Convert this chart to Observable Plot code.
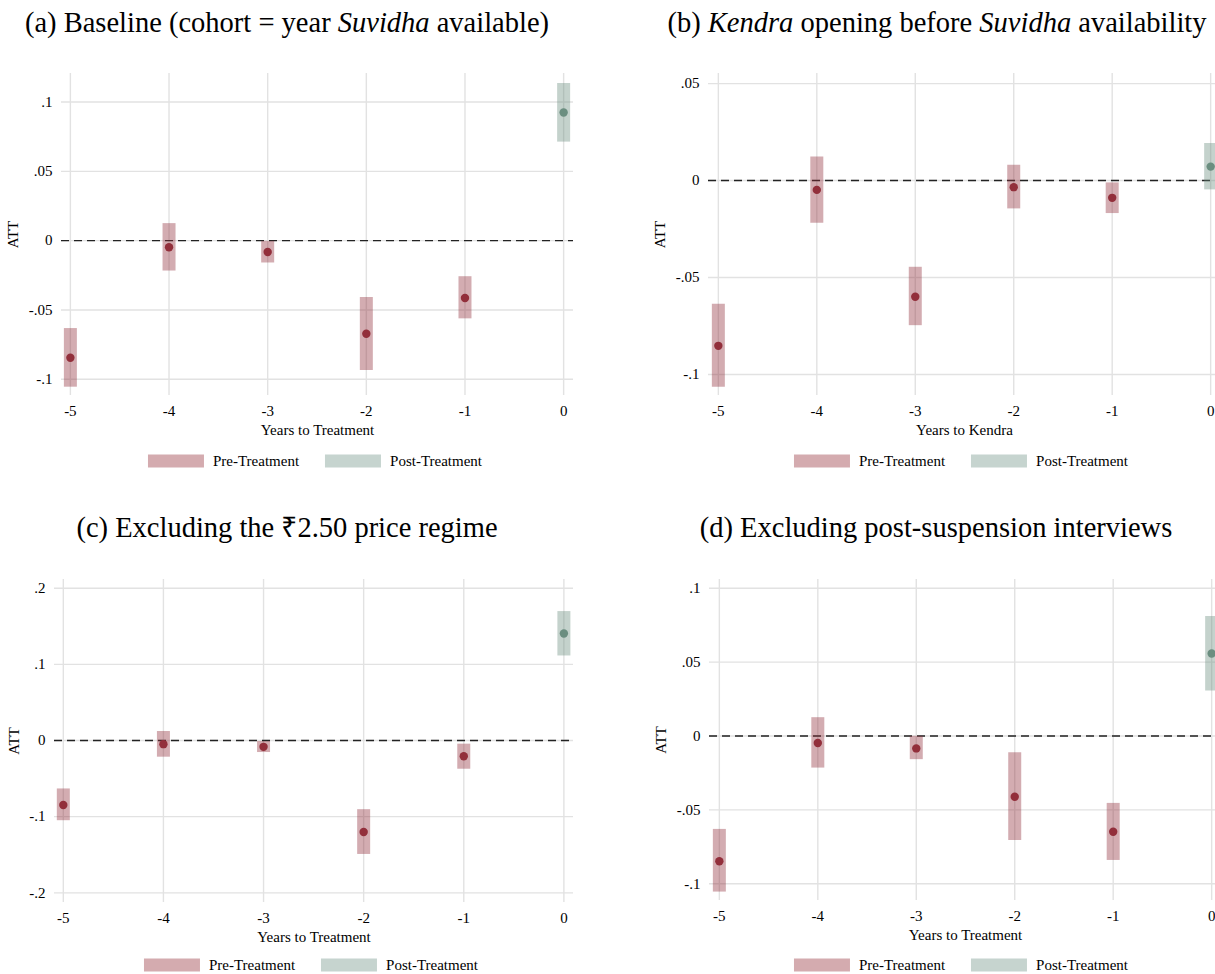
<!DOCTYPE html>
<html><head><meta charset="utf-8">
<script src="https://cdn.jsdelivr.net/npm/d3@7"></script>
<script src="https://cdn.jsdelivr.net/npm/@observablehq/plot@0.6"></script>
<style>
html,body{margin:0;padding:0;background:#fff;overflow:hidden}
#page{position:relative;width:1215px;height:974px;overflow:hidden;font-family:"Liberation Serif","Times New Roman",serif;color:#000;background:#fff}
.panel{position:absolute}
.panel svg{max-width:none !important;display:block}
.title{position:absolute;font-family:"Liberation Serif","Times New Roman",serif;font-size:28.5px;line-height:1;white-space:nowrap;transform:translate(-50%,-50%)}
.legend{position:absolute;display:flex;align-items:center;font-size:15px;line-height:1;white-space:nowrap;transform:translate(-50%,-50%)}
.sw{width:56px;height:13px;margin-right:9px}
.gap{width:26px}
</style></head><body><div id="page"></div>
<script>
// ---- data ----
const years = [-5, -4, -3, -2, -1, 0];
const phase = ["Pre", "Pre", "Pre", "Pre", "Pre", "Post"];
const xTicks = [-5, -4, -3, -2, -1, 0];

const attA = [-0.0845, -0.0048, -0.0082, -0.0672, -0.0414, 0.0925];
const loA  = [-0.1057, -0.0219, -0.0161, -0.0937, -0.0564, 0.0711];
const hiA  = [-0.0634,  0.0123, -0.0005, -0.0410, -0.0260, 0.1134];
const yTicksA = [-0.1, -0.05, 0, 0.05, 0.1];

const attB = [-0.0852, -0.0048, -0.0599, -0.0034, -0.0089, 0.0072];
const loB  = [-0.1065, -0.0220, -0.0748, -0.0146, -0.0170, -0.0048];
const hiB  = [-0.0638,  0.0122, -0.0447,  0.0079, -0.0012, 0.0191];
const yTicksB = [-0.1, -0.05, 0, 0.05];

const attC = [-0.0846, -0.0048, -0.0083, -0.1202, -0.0206, 0.1404];
const loC  = [-0.1053, -0.0219, -0.0158, -0.1496, -0.0377, 0.1110];
const hiC  = [-0.0636,  0.0118, -0.0013, -0.0908, -0.0048, 0.1693];
const yTicksC = [-0.2, -0.1, 0, 0.1, 0.2];

const attD = [-0.0847, -0.0047, -0.0084, -0.0411, -0.0648, 0.0558];
const loD  = [-0.1056, -0.0217, -0.0160, -0.0707, -0.0842, 0.0305];
const hiD  = [-0.0632,  0.0124, -0.0002, -0.0113, -0.0456, 0.0808];
const yTicksD = [-0.1, -0.05, 0, 0.05, 0.1];

const legendLabels = ["Pre-Treatment", "Post-Treatment"];

// ---- styles ----
const dotColor = {Pre: "#922f3b", Post: "#6b8e80"};
const swatchColor = {Pre: "#d4abaf", Post: "#c6d4cf"};

const fmtY = v => v === 0 ? "0" : (v < 0 ? "-" : "") + String(Math.abs(v)).replace(/^0/, "");
const fmtX = v => String(v);

const page = document.getElementById("page");

function rows(att, lo, hi) {
  return years.map((y, i) => ({year: y, att: att[i], lo: lo[i], hi: hi[i], phase: phase[i]}));
}

function panel(cfg) {
  const data = rows(cfg.att, cfg.lo, cfg.hi);
  const chart = Plot.plot({
    width: cfg.width, height: cfg.height,
    marginLeft: cfg.ml, marginRight: cfg.mr, marginTop: cfg.mt, marginBottom: cfg.mb,
    style: {fontFamily: '"Liberation Serif","Times New Roman",serif', fontSize: "15px", color: "#000", background: "transparent", overflow: "visible", maxWidth: "none"},
    x: {domain: cfg.xDomain},
    y: {domain: cfg.yDomain},
    marks: [
      Plot.gridX(xTicks, {stroke: "#e2e2e2", strokeOpacity: 1, strokeWidth: 1.4}),
      Plot.gridY(cfg.yTicks, {stroke: "#e2e2e2", strokeOpacity: 1, strokeWidth: 1.4}),
      Plot.ruleY([0], {stroke: "#222", strokeWidth: 1.4, strokeDasharray: "8,5"}),
      Plot.ruleX(data, {x: "year", y1: "lo", y2: "hi", stroke: d => dotColor[d.phase], strokeOpacity: 0.4, strokeWidth: 13}),
      Plot.dot(data, {x: "year", y: "att", r: 4.2, fill: d => dotColor[d.phase], stroke: null}),
      Plot.axisX(xTicks, {tickSize: 0, tickPadding: 10, tickFormat: fmtX, fontSize: 15, label: cfg.xLabel, labelAnchor: "center", labelArrow: "none", labelOffset: 39}),
      Plot.axisY(cfg.yTicks, {tickSize: 0, tickPadding: 9, tickFormat: fmtY, fontSize: 15, label: "ATT", labelAnchor: "center", labelArrow: "none", labelOffset: cfg.yLabelOffset})
    ]
  });
  const wrap = document.createElement("div");
  wrap.className = "panel";
  wrap.style.left = cfg.left + "px";
  wrap.style.top = cfg.top + "px";
  wrap.style.width = cfg.width + "px";
  wrap.style.height = cfg.height + "px";
  wrap.appendChild(chart);
  page.appendChild(wrap);

  const t = document.createElement("div");
  t.className = "title";
  t.style.left = cfg.titleX + "px";
  t.style.top = cfg.titleY + "px";
  t.innerHTML = cfg.title;
  page.appendChild(t);

  const lg = document.createElement("div");
  lg.className = "legend";
  lg.style.left = cfg.legendX + "px";
  lg.style.top = cfg.legendY + "px";
  ["Pre", "Post"].forEach((p, i) => {
    if (i > 0) { const g = document.createElement("span"); g.className = "gap"; lg.appendChild(g); }
    const s = document.createElement("span"); s.className = "sw"; s.style.background = swatchColor[p]; lg.appendChild(s);
    const l = document.createElement("span"); l.textContent = legendLabels[i]; lg.appendChild(l);
  });
  page.appendChild(lg);
}

panel({att: attA, lo: loA, hi: hiA, yTicks: yTicksA, xLabel: "Years to Treatment",
  left: 0, top: 60, width: 600, height: 390, ml: 61, mr: 27, mt: 13, mb: 55,
  xDomain: [-5.09, 0.1], yDomain: [-0.1117, 0.1206], yLabelOffset: 54,
  title: "(a) Baseline (cohort = year <i>Suvidha</i> available)", titleX: 287, titleY: 23,
  legendX: 315, legendY: 461});

panel({att: attB, lo: loB, hi: hiB, yTicks: yTicksB, xLabel: "Years to Kendra",
  left: 610, top: 60, width: 620, height: 390, ml: 98, mr: 10, mt: 13, mb: 55,
  xDomain: [-5.1, 0.1], yDomain: [-0.1108, 0.0552], yLabelOffset: 54,
  title: "(b) <i>Kendra</i> opening before <i>Suvidha</i> availability", titleX: 937, titleY: 23,
  legendX: 961, legendY: 461});

panel({att: attC, lo: loC, hi: hiC, yTicks: yTicksC, xLabel: "Years to Treatment",
  left: 0, top: 566, width: 600, height: 390, ml: 54, mr: 27, mt: 13, mb: 54,
  xDomain: [-5.088, 0.096], yDomain: [-0.2127, 0.2114], yLabelOffset: 46,
  title: "(c) Excluding the ₹2.50 price regime", titleX: 287, titleY: 528,
  legendX: 311, legendY: 965});

panel({att: attD, lo: loD, hi: hiD, yTicks: yTicksD, xLabel: "Years to Treatment",
  left: 610, top: 566, width: 620, height: 390, ml: 99, mr: 9, mt: 13, mb: 56,
  xDomain: [-5.1, 0.1], yDomain: [-0.1113, 0.1059], yLabelOffset: 54,
  title: "(d) Excluding post-suspension interviews", titleX: 936, titleY: 528,
  legendX: 961, legendY: 965});
</script>
</body></html>
